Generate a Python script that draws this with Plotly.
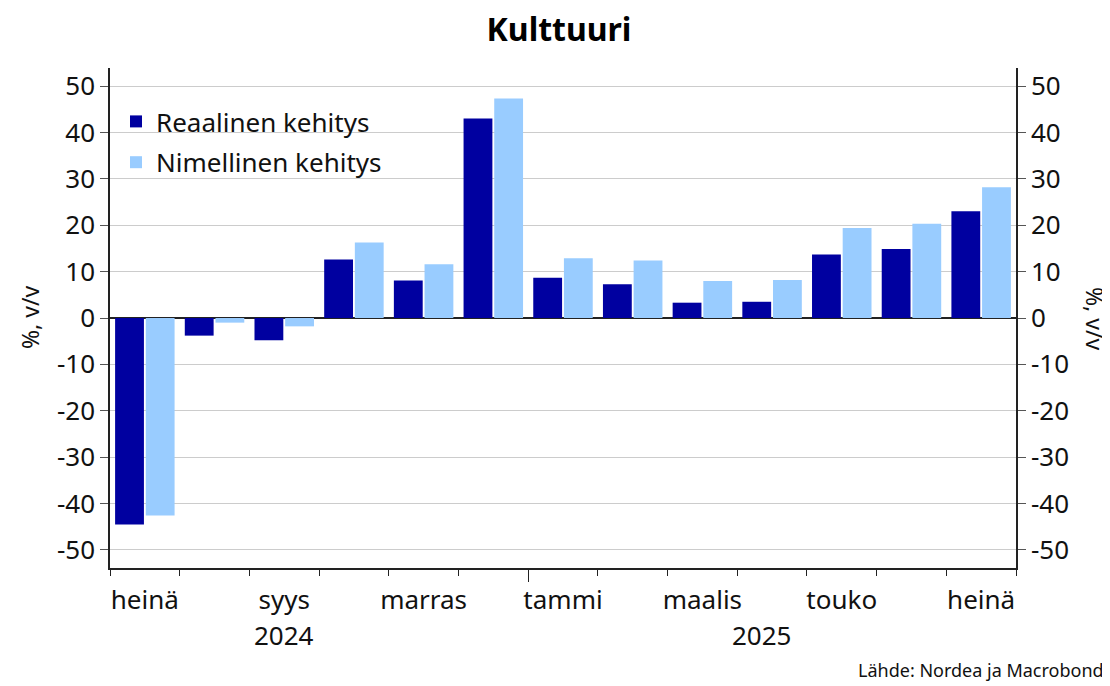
import plotly.graph_objects as go

months = ["heinä", "elo", "syys", "loka", "marras", "joulu", "tammi",
          "helmi", "maalis", "huhti", "touko", "kesä", "heinä"]
real = [-44.5, -3.8, -4.8, 12.6, 8.1, 43.0, 8.7, 7.3, 3.3, 3.5, 13.7, 14.9, 23.0]
nominal = [-42.6, -1.0, -1.8, 16.3, 11.6, 47.3, 12.9, 12.4, 8.0, 8.2, 19.4, 20.3, 28.2]
label_idx = [0, 2, 4, 6, 8, 10, 12]
years = ["2024", "2025"]
year_pos = [2, 8.86]
yticks = list(range(-50, 60, 10))

FONT = "Noto Sans"
x = list(range(len(months)))

W, H = 1102, 678
L, R, T, B = 102, 94, 60, 118
PW, PH = W - L - R, H - T - B

fig = go.Figure()
fig.add_trace(go.Bar(x=x, y=real, name="Reaalinen kehitys", marker_color="#0000A0",
                     marker_line_width=0, legendgroup="a"))
fig.add_trace(go.Bar(x=x, y=nominal, name="Nimellinen kehitys", marker_color="#99CCFF",
                     marker_line_width=0, legendgroup="b"))

yrange = [-53.9, 53.9]
xrange = [-0.5, len(months) - 0.5]

fig.update_layout(
    width=W, height=H,
    margin=dict(l=L, r=R, t=T, b=B),
    paper_bgcolor="white", plot_bgcolor="white",
    font=dict(family=FONT, color="#111111", size=26),
    barmode="group", bargap=0.12, bargroupgap=0.06,
    title=dict(text="<b>Kulttuuri</b>", x=0.5, xanchor="center", y=1 - 22 / H,
               yanchor="middle", font=dict(size=32, family=FONT, color="black")),
    showlegend=True,
    legend=dict(x=0.0066, y=0.94, xanchor="left", yanchor="top", bgcolor="rgba(0,0,0,0)",
                font=dict(size=26), itemsizing="constant", tracegroupgap=4, itemwidth=30),
    xaxis=dict(range=xrange, showgrid=False, zeroline=False, showline=True,
               linecolor="#222222", linewidth=1.5,
               tickmode="array", tickvals=[5.5], ticktext=[""], ticks="outside",
               ticklen=12, tickcolor="#222222",
               minor=dict(ticks="outside", tick0=-0.5, dtick=1, ticklen=6,
                          tickcolor="#222222", showgrid=False)),
    xaxis2=dict(range=xrange, overlaying="x", side="bottom", showgrid=False, zeroline=False,
                showline=False, tickmode="array", tickvals=label_idx,
                ticktext=[months[i] for i in label_idx], ticks="", ticklabelstandoff=14,
                tickfont=dict(size=26)),
    yaxis=dict(range=yrange, tickmode="array", tickvals=yticks,
               ticktext=[str(v) for v in yticks],
               showgrid=True, gridcolor="#cccccc", gridwidth=1,
               zeroline=True, zerolinecolor="#222222", zerolinewidth=1.5,
               showline=True, linecolor="#222222", linewidth=1.5,
               ticks="outside", ticklen=8, tickcolor="#555555", tickfont=dict(size=26)),
    yaxis2=dict(range=yrange, overlaying="y", side="right", tickmode="array",
                tickvals=yticks, ticktext=[str(v) for v in yticks], showgrid=False,
                zeroline=False, showline=True, linecolor="#222222", linewidth=1.5,
                ticks="outside", ticklen=8, tickcolor="#555555", tickfont=dict(size=26)),
)

# invisible trace to anchor secondary axes
fig.add_trace(go.Scatter(x=[xrange[0]], y=[0], xaxis="x2", yaxis="y2", mode="markers",
                         marker=dict(opacity=0), showlegend=False, hoverinfo="skip"))

for yr, pos in zip(years, year_pos):
    fig.add_annotation(text=yr, x=pos, xref="x", y=-67 / PH, yref="paper", showarrow=False,
                       yanchor="middle", font=dict(size=26, family=FONT))

fig.add_annotation(text="%, v/v", x=(22 - L) / PW, xref="paper", xanchor="center", y=0.5,
                   yref="paper", textangle=-90, showarrow=False,
                   font=dict(size=23, family=FONT))
fig.add_annotation(text="%, v/v", x=(1087 - L) / PW, xref="paper", xanchor="center", y=0.5,
                   yref="paper", textangle=90, showarrow=False,
                   font=dict(size=23, family=FONT))
fig.add_annotation(text="Lähde: Nordea ja Macrobond", x=(1098 - L) / PW, xref="paper",
                   xanchor="right", y=-(B - 2) / PH, yref="paper", yanchor="bottom",
                   showarrow=False, font=dict(size=18, family=FONT))

fig.write_html("out.html")
